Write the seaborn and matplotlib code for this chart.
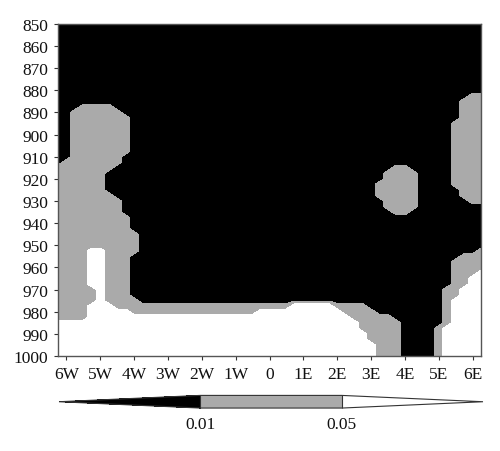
import numpy as np
import matplotlib
matplotlib.use("Agg")
import matplotlib.pyplot as plt
from matplotlib.colors import ListedColormap
import seaborn as sns

# grid: longitude (deg, west negative) x pressure (hPa)
lons = np.arange(-6.25, 6.26, 0.25)            # 51 columns
pressures = np.arange(850.0, 1000.1, 2.5)     # 61 rows

# significance class of each grid cell -> typical p-value
p_class = {"B": 0.005, "G": 0.015, "W": 0.085}

# one row per pressure level (top to bottom), run-length coded classes
rows = [
    "B51", "B51", "B51", "B51", "B51", "B51", "B51",      # 850-865
    "B51", "B51", "B51", "B51", "B51", "B51",             # 867.5-880
    "B49 G2",                                            # 882.5
    "B48 G3",                                            # 885
    "B3 G4 B41 G3",                                      # 887.5
    "B2 G6 B40 G3",                                      # 890
    "B2 G7 B39 G3",                                      # 892.5
    "B2 G7 B38 G4",                                      # 895
    "B2 G7 B38 G4",                                      # 897.5
    "B2 G7 B38 G4",                                      # 900
    "B2 G7 B38 G4",                                      # 902.5
    "B2 G7 B38 G4",                                      # 905
    "B2 G7 B38 G4",                                      # 907.5
    "B2 G6 B39 G4",                                      # 910
    "B1 G7 B39 G4",                                      # 912.5
    "G7 B33 G2 B5 G4",                                   # 915
    "G6 B33 G4 B4 G4",                                   # 917.5
    "G6 B33 G4 B4 G4",                                   # 920
    "G6 B32 G5 B4 G4",                                   # 922.5
    "G6 B32 G5 B5 G3",                                   # 925
    "G7 B31 G5 B5 G3",                                   # 927.5
    "G8 B31 G4 B6 G2",                                   # 930
    "G8 B31 G4 B8",                                      # 932.5
    "G8 B32 G2 B9",                                      # 935
    "G9 B42",                                            # 937.5
    "G9 B42",                                            # 940
    "G9 B42",                                            # 942.5
    "G10 B41",                                           # 945
    "G10 B41",                                           # 947.5
    "G10 B41",                                           # 950
    "G4 W2 G4 B40 G1",                                   # 952.5
    "G4 W2 G3 B39 G3",                                   # 955
    "G4 W2 G3 B38 G4",                                   # 957.5
    "G4 W2 G3 B38 G4",                                   # 960
    "G4 W2 G3 B38 G3 W1",                                # 962.5
    "G4 W2 G3 B38 G2 W2",                                # 965
    "G4 W2 G3 B38 G2 W2",                                # 967.5
    "G5 W1 G3 B37 G2 W3",                                # 970
    "G5 W1 G3 B37 G2 W3",                                # 972.5
    "G5 W1 G4 B36 G1 W4",                                # 975
    "G4 W3 G21 W5 G4 B9 G1 W4",                          # 977.5
    "G4 W5 G15 W10 G4 B8 G1 W4",                         # 980
    "G4 W31 G5 B6 G1 W4",                                # 982.5
    "W36 G5 B5 G1 W4",                                   # 985
    "W36 G5 B4 G1 W5",                                   # 987.5
    "W37 G4 B4 G1 W5",                                   # 990
    "W37 G4 B4 G1 W5",                                   # 992.5
    "W38 G3 B4 G1 W5",                                   # 995
    "W38 G3 B4 G1 W5",                                   # 997.5
    "W38 G3 B4 G1 W5",                                   # 1000
]

lon_labels = ["6W", "5W", "4W", "3W", "2W", "1W", "0",
              "1E", "2E", "3E", "4E", "5E", "6E"]
sig_levels = [0.01, 0.05]


def expand(row):
    vals = []
    for run in row.split():
        vals += [p_class[run[0]]] * int(run[1:])
    return vals


pvals = np.array([expand(r) for r in rows])

sns.set_style("ticks")
plt.rcParams["font.family"] = ["Liberation Serif", "DejaVu Serif"]

fig = plt.figure(figsize=(5, 4.52), dpi=100)
ax = fig.add_axes([0.116, 0.21, 0.846, 0.735])

cmap = ListedColormap(["#aaaaaa"])
cmap.set_under("black")
cmap.set_over("white")
cs = ax.contourf(lons, pressures, pvals, levels=sig_levels,
                 cmap=cmap, extend="both")

ax.set_xlim(-6.25, 6.25)
ax.set_ylim(1000, 850)
ax.set_xticks(range(-6, 7))
ax.set_xticklabels(lon_labels)
ax.set_yticks(range(850, 1001, 10))
ax.tick_params(labelsize=12.5, length=3, width=0.8, color="#333333",
               labelcolor="#111111", pad=4)
for sp in ax.spines.values():
    sp.set_visible(True)
    sp.set_color("#555555")
    sp.set_linewidth(1.0)

cax = fig.add_axes([0.118, 0.095, 0.848, 0.028])
cb = fig.colorbar(cs, cax=cax, orientation="horizontal",
                  extendfrac=1, drawedges=True)
cb.set_ticks(sig_levels)
cb.set_ticklabels(["0.01", "0.05"])
cb.ax.tick_params(length=0, labelsize=12.5, pad=6, labelcolor="#111111")
cb.outline.set_linewidth(0.8)
cb.outline.set_edgecolor("#333333")
cb.dividers.set_color("#333333")
cb.dividers.set_linewidth(0.8)

fig.savefig("out.png", dpi=100)
